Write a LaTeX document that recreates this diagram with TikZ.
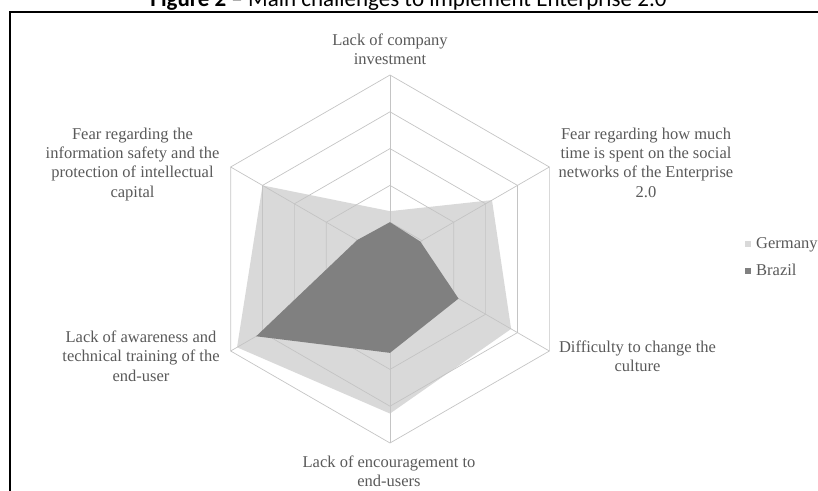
\documentclass[tikz,border=0pt]{standalone}
\usepackage{fontspec}
\setmainfont{Liberation Serif}
\newfontfamily\titlefont{Carlito}
\definecolor{gridc}{HTML}{C4C4C4}
\definecolor{gerc}{HTML}{D9D9D9}
\definecolor{brac}{HTML}{808080}
\definecolor{txtc}{HTML}{595959}
\tikzset{
  lbl/.style={anchor=north, inner sep=0pt, align=center, text=txtc,
    font=\fontsize{16.5}{19.3}\selectfont},
  leg/.style={anchor=base west, inner sep=0pt, text=txtc,
    font=\fontsize{16.5}{19.3}\selectfont},
  gridline/.style={draw=gridc, line width=0.7pt},
  legsq/.style={minimum size=6pt, inner sep=0pt},
}
\begin{document}
\begin{tikzpicture}[x=1pt,y=-1pt]
\useasboundingbox (0,0) rectangle (818,490);
\clip (0,0) rectangle (818,490);
% title (partly cut off at the top)
\node[anchor=base, inner sep=0pt, font=\titlefont\fontsize{23}{26}\selectfont] (title) at (408.5,6.5)
  {\textbf{Figure 2} – Main challenges to implement Enterprise 2.0};
% frame
\draw[line width=2pt, line join=miter] (10,492) -- (10,12) -- (820,12);
% radar chart
\begin{scope}[shift={(390,259)}, x=36.8pt, y=36.8pt]
  % Germany
  \fill[gerc] (90:1.3) -- (30:3.2) -- (-30:3.8) -- (-90:4.2) -- (-150:4.8) -- (150:4.0) -- cycle;
  % grid
  \foreach \r in {1,...,5}
    \draw[gridline] (90:\r) -- (30:\r) -- (-30:\r) -- (-90:\r) -- (-150:\r) -- (150:\r) -- cycle;
  \foreach \a in {90,30,-30,-90,-150,150}
    \draw[gridline] (0,0) -- (\a:5);
  % Brazil
  \fill[brac] (90:1.0) -- (30:0.95) -- (-30:2.15) -- (-90:2.55) -- (-150:4.2) -- (150:1.03) -- cycle;
\end{scope}
% axis labels
\node[lbl] (l1) at (390,33.7) {Lack of company\\investment};
\node[lbl] (l2) at (646,127.7) {Fear regarding how much\\time is spent on the social\\networks of the Enterprise\\2.0};
\node[lbl] (l3) at (637.5,340.7) {Difficulty to change the\\culture};
\node[lbl] (l4) at (389,455.7) {Lack of encouragement to\\end-users};
\node[lbl] (l5) at (141,330.7) {Lack of awareness and\\technical training of the\\end-user};
\node[lbl] (l6) at (132.5,127.7) {Fear regarding the\\information safety and the\\protection of intellectual\\capital};
% legend
\node[legsq, fill=gerc] (sqg) at (748,244) {};
\node[leg] (tg) at (756,248) {Germany};
\node[legsq, fill=brac] (sqb) at (748,271) {};
\node[leg] (tb) at (756,275) {Brazil};
\end{tikzpicture}
\end{document}
